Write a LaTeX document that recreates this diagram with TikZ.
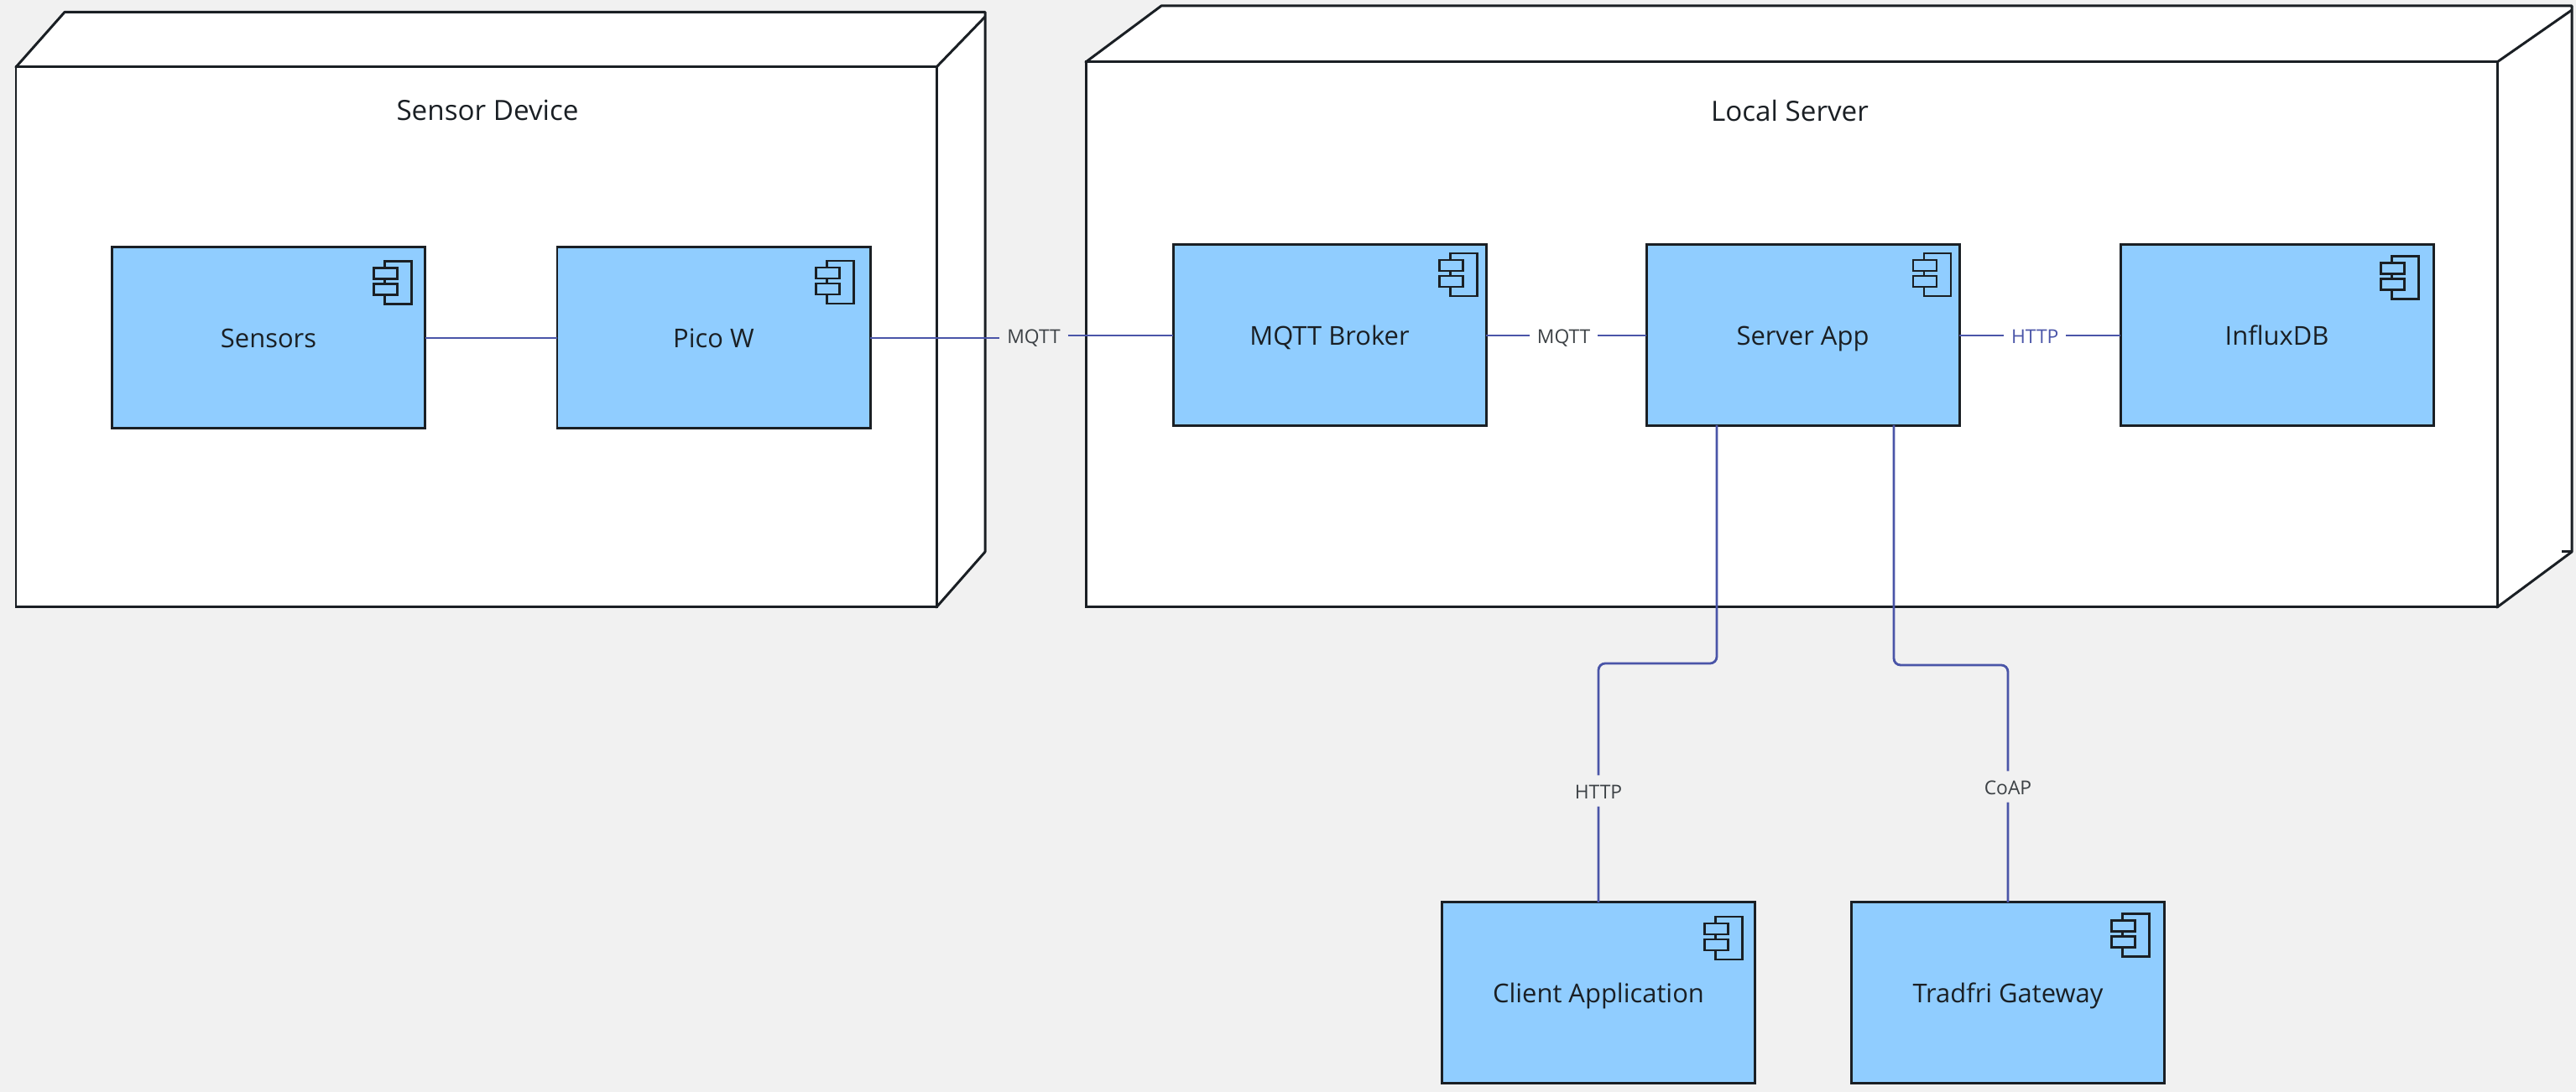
\documentclass[tikz,border=0pt]{standalone}
\usepackage{fontspec}
\setmainfont{Open Sans}
\usetikzlibrary{positioning}
\definecolor{bgcolor}{HTML}{F1F1F1}
\definecolor{compcolor}{HTML}{90CDFF}
\definecolor{linkcolor}{HTML}{4A55A8}
\definecolor{inkcolor}{HTML}{1A1F24}

\begin{document}
\begin{tikzpicture}[
  devbox/.style={draw=inkcolor, fill=white, line width=0.85pt, inner sep=0pt, outer sep=0pt},
  devside/.style={draw=inkcolor, fill=white, line width=0.85pt, line join=round},
  devlbl/.style={font=\fontsize{9.45}{11}\selectfont, text=inkcolor},
  comp/.style={draw=inkcolor, fill=compcolor, line width=0.85pt, minimum width=3.73cm,
               minimum height=2.16cm, inner sep=0pt, outer sep=0pt, text height=8.8pt, text depth=2pt,
               font=\fontsize{8.8}{11}\selectfont, text=inkcolor},
  icon/.style={draw=inkcolor, line width=0.8pt},
  conn/.style={draw=linkcolor, line width=0.8pt},
  bent/.style={conn, rounded corners=0.08cm},
  lbl/.style={font=\fontsize{6.5}{8}\selectfont, text=inkcolor!85, inner sep=2.5pt, outer sep=0pt,
              text height=5.6pt, text depth=0pt},
]
  \useasboundingbox[fill=bgcolor] (0,0) rectangle (30.7,13.02);

  % Sensor device
  \path[devside] (0.19,12.22) -- (0.77,12.875) -- (11.74,12.875) -- (11.74,6.44) -- (11.16,5.78) -- cycle;
  \node[devbox, minimum width=10.97cm, minimum height=6.44cm, anchor=south west] (sensordev) at (0.19,5.78) {};
  \draw[devside] (sensordev.north east) -- (11.74,12.82);
  \node[devlbl] (sensorlbl) at (5.81,11.71) {Sensor Device};

  % Local server
  \path[devside] (12.94,12.28) -- (13.84,12.95) -- (30.65,12.95) -- (30.65,6.44) -- (29.76,5.78) -- cycle;
  \node[devbox, minimum width=16.82cm, minimum height=6.5cm, anchor=south west] (serverdev) at (12.94,5.78) {};
  \draw[devside] (serverdev.north east) -- (30.65,12.9);
  \draw[devside] (30.53,6.44) -- (30.65,6.44);
  \node[devlbl] (serverlbl) at (21.33,11.70) {Local Server};

  % Components
  \node[comp, anchor=north west] (sensors) at (1.335,10.07) {Sensors};
  \node[comp, right=1.575cm of sensors] (pico) {Pico W};
  \node[comp, anchor=north west] (broker) at (13.98,10.10) {MQTT Broker};
  \node[comp, right=1.91cm of broker] (app) {Server App};
  \node[comp, right=1.92cm of app] (influx) {InfluxDB};
  \node[comp, anchor=north west] (client) at (17.185,2.26) {Client Application};
  \node[comp, right=1.15cm of client] (gateway) {Tradfri Gateway};

  % Component icons
  \foreach \c/\ix/\iy in {sensors/0.16/0.167, pico/0.197/0.16, broker/0.107/0.10, app/0.10/0.10,
                          influx/0.173/0.133, client/0.147/0.17, gateway/0.177/0.133} {
    \coordinate (ico) at ([shift={(-\ix,-\iy)}]\c.north east);
    \draw[icon] ([xshift=-0.32cm]ico) rectangle ([yshift=-0.51cm]ico);
    \draw[icon, fill=compcolor] ([shift={(-0.45,-0.08)}]ico) rectangle ([shift={(-0.17,-0.21)}]ico);
    \draw[icon, fill=compcolor] ([shift={(-0.45,-0.27)}]ico) rectangle ([shift={(-0.17,-0.40)}]ico);
  }

  % Labels
  \node[lbl] (mqttext) at (12.32,9.02) {MQTT};
  \path (broker) -- node[lbl, pos=0.485] (mqttint) {MQTT} (app);
  \path (app) -- node[lbl, pos=0.47, text=linkcolor] (httpdb) {HTTP} (influx);
  \node[lbl] (httpapp) at (19.05,3.59) {HTTP};
  \node[lbl] (coap) at (23.93,3.64) {CoAP};

  % Bends below the server app
  \coordinate (appleft) at (20.46,7.95);
  \coordinate (appright) at (22.57,7.95);
  \coordinate (bendleft) at (20.46,5.11);
  \coordinate (bendright) at (22.57,5.09);

  % Connectors
  \draw[conn] (sensors) -- (pico);
  \draw[conn] (pico.east) -- (pico.east -| mqttext.west);
  \draw[conn] (mqttext.east) -- (mqttext.east -| broker.west);
  \foreach \a/\b in {broker/mqttint, mqttint/app, app/httpdb, httpdb/influx}
    \draw[conn] (\a) -- (\b);
  \draw[bent] (appleft) -- (bendleft) -| (httpapp.north);
  \draw[conn] (httpapp.south) -- (client.north);
  \draw[bent] (appright) -- (bendright) -| (coap.north);
  \draw[conn] (coap.south) -- (gateway.north);
\end{tikzpicture}
\end{document}
